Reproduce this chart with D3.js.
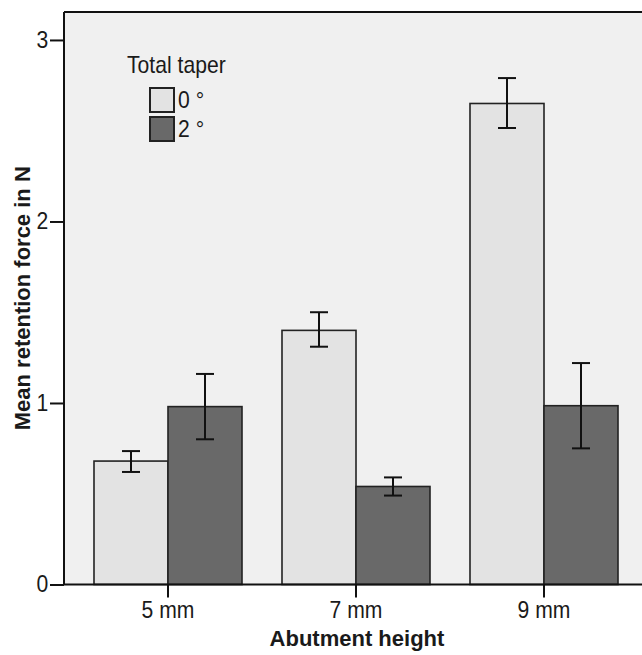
<!DOCTYPE html>
<html><head><meta charset="utf-8">
<script src="https://cdn.jsdelivr.net/npm/d3@7"></script>
<style>body{margin:0;background:#fff}svg{display:block}text{font-family:"Liberation Sans",Arial,sans-serif;fill:#1a1a1a}</style>
</head><body>
<script>
const categories = ["5 mm", "7 mm", "9 mm"];
const series = ["0 °", "2 °"];
const mean0 = [0.68, 1.40, 2.65];
const mean2 = [0.98, 0.54, 0.985];
const low0 = [0.62, 1.31, 2.515];
const high0 = [0.735, 1.50, 2.79];
const low2 = [0.80, 0.49, 0.75];
const high2 = [1.16, 0.59, 1.22];
const yTicks = [0, 1, 2, 3];
const legendTitle = "Total taper";
const xTitle = "Abutment height";
const yTitle = "Mean retention force in N";

const W = 642, H = 655;
const pLeft = 64, pRight = 648, pTop = 12, pBottom = 584.5;
const colors = ["#e3e3e3", "#696969"];
const condense = "scale(0.92,1)";

const svg = d3.select("body").append("svg").attr("width", W).attr("height", H);

const x = d3.scaleBand().domain(categories).range([pLeft, pRight])
  .paddingInner(40/188).paddingOuter(30/188);
const xs = d3.scaleBand().domain(series).range([0, x.bandwidth()]).padding(0);
const y = d3.scaleLinear().domain([0, 3.154]).range([pBottom, pTop]);

// plot background
svg.append("rect").attr("x", pLeft).attr("y", pTop).attr("width", pRight - pLeft).attr("height", pBottom - pTop)
  .attr("fill", "#f0f0f0");
svg.append("line").attr("x1", pLeft).attr("x2", W).attr("y1", pTop).attr("y2", pTop)
  .attr("stroke", "#111").attr("stroke-width", 2);

const rows = categories.map((c, i) => [
  {cat: c, s: series[0], m: mean0[i], lo: low0[i], hi: high0[i], k: 0},
  {cat: c, s: series[1], m: mean2[i], lo: low2[i], hi: high2[i], k: 1}
]).flat();

svg.append("g").selectAll("rect").data(rows).join("rect")
  .attr("x", d => x(d.cat) + xs(d.s))
  .attr("y", d => y(d.m))
  .attr("width", xs.bandwidth())
  .attr("height", d => y(0) - y(d.m))
  .attr("fill", d => colors[d.k])
  .attr("stroke", "#222").attr("stroke-width", 1.6);

// error bars
const eb = svg.append("g").attr("stroke", "#111").attr("stroke-width", 2);
rows.forEach(d => {
  const cx = x(d.cat) + xs(d.s) + xs.bandwidth() / 2;
  eb.append("line").attr("x1", cx).attr("x2", cx).attr("y1", y(d.lo)).attr("y2", y(d.hi));
  eb.append("line").attr("x1", cx - 9).attr("x2", cx + 9).attr("y1", y(d.lo)).attr("y2", y(d.lo));
  eb.append("line").attr("x1", cx - 9).attr("x2", cx + 9).attr("y1", y(d.hi)).attr("y2", y(d.hi));
});

// axes
const yAxis = svg.append("g").attr("transform", `translate(${pLeft},0)`)
  .call(d3.axisLeft(y).tickValues(yTicks).tickFormat(d3.format("d")).tickSize(14).tickPadding(3));
const xAxis = svg.append("g").attr("transform", `translate(0,${pBottom})`)
  .call(d3.axisBottom(x).tickSize(13).tickPadding(4));
[yAxis, xAxis].forEach(a => {
  a.select(".domain").attr("stroke", "#111").attr("stroke-width", 2);
  a.selectAll(".tick line").attr("stroke", "#111").attr("stroke-width", 2);
  a.selectAll(".tick text").attr("font-size", 23).attr("fill", "#1a1a1a")
    .attr("font-family", "Liberation Sans, Arial, sans-serif").attr("transform", condense);
});
yAxis.select(".domain").attr("d", `M0,${pTop}V${pBottom}`);
xAxis.select(".domain").attr("d", `M${pLeft},0H${W}`);

// titles
svg.append("text").attr("x", 357).attr("y", 646).attr("text-anchor", "middle")
  .attr("font-size", 22).attr("font-weight", "bold").text(xTitle);
svg.append("text").attr("transform", `translate(30,${(pTop + pBottom) / 2}) rotate(-90)`)
  .attr("text-anchor", "middle").attr("font-size", 22).attr("font-weight", "bold").text(yTitle);

// legend
const lg = svg.append("g");
lg.append("text").attr("transform", `translate(127,72.5) ${condense}`).attr("font-size", 23).text(legendTitle);
series.forEach((s, i) => {
  lg.append("rect").attr("x", 150).attr("y", 88 + i * 29).attr("width", 24).attr("height", 24)
    .attr("fill", colors[i]).attr("stroke", "#222").attr("stroke-width", 2);
  lg.append("text").attr("transform", `translate(178,${108 + i * 29}) ${condense}`)
    .attr("font-size", 23).text(s);
});
</script>
</body></html>
